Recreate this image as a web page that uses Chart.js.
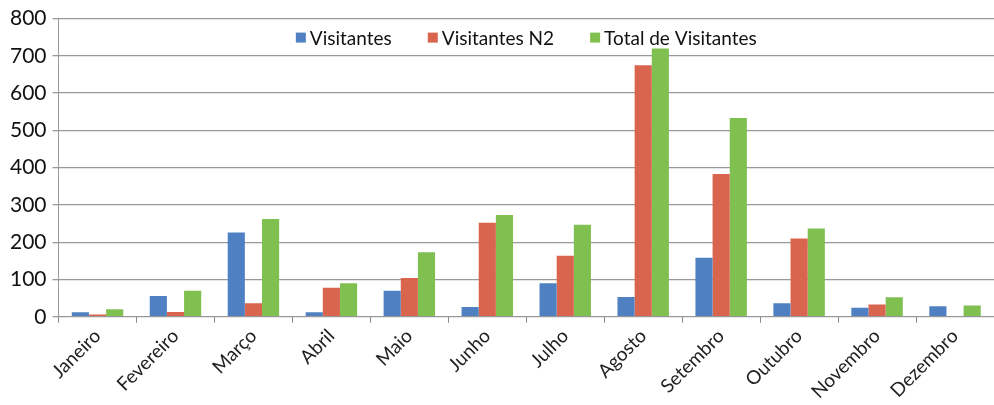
<!DOCTYPE html>
<html>
<head>
<meta charset="utf-8">
<script src="https://cdn.jsdelivr.net/npm/chart.js@4/dist/chart.umd.min.js"></script>
<style>
  html, body { margin: 0; padding: 0; background: #fff; }
  #wrap { width: 994px; height: 405px; position: relative; }
</style>
</head>
<body>
<div id="wrap"><canvas id="grafico"></canvas></div>
<script>
"use strict"
// Meses e valores
const meses = ['Janeiro', 'Fevereiro', 'Março', 'Abril', 'Maio', 'Junho', 'Julho', 'Agosto', 'Setembro', 'Outubro', 'Novembro', 'Dezembro'];
const visitantes = [12, 56, 226, 12, 70, 26, 90, 53, 158, 36, 24, 28];
const visitantesN2 = [6, 13, 36, 78, 104, 252, 164, 675, 383, 210, 33, 2];
const totalVisitantes = [20, 70, 262, 90, 173, 273, 247, 720, 533, 237, 52, 30];
const ticksY = [0, 100, 200, 300, 400, 500, 600, 700, 800];

const fonte = "Lato, 'Open Sans', sans-serif";

// Legenda desenhada dentro da área do gráfico, em linha, no topo
const legendaInterna = {
  id: 'legendaInterna',
  afterDraw(chart) {
    const ctx = chart.ctx;
    const area = chart.chartArea;
    const caixa = 10, espaco = 4, entre = 36;
    ctx.save();
    ctx.font = "19px " + fonte;
    ctx.textBaseline = 'middle';
    const itens = chart.data.datasets.map(ds => ({
      texto: ds.label,
      cor: ds.backgroundColor,
      largura: caixa + espaco + ctx.measureText(ds.label).width
    }));
    const total = itens.reduce((s, it) => s + it.largura, 0) + entre * (itens.length - 1);
    let x = (area.left + area.right) / 2 - total / 2;
    const y = area.top + 19;
    itens.forEach(it => {
      ctx.fillStyle = it.cor;
      ctx.fillRect(x, y - caixa / 2, caixa, caixa);
      ctx.fillStyle = '#111';
      ctx.fillText(it.texto, x + caixa + espaco, y + 1);
      x += it.largura + entre;
    });
    ctx.restore();
  }
};

new Chart(document.getElementById('grafico'), {
  type: 'bar',
  data: {
    labels: meses,
    datasets: [
      { label: 'Visitantes', data: visitantes, backgroundColor: '#4f81c2' },
      { label: 'Visitantes N2', data: visitantesN2, backgroundColor: '#d9654f' },
      { label: 'Total de Visitantes', data: totalVisitantes, backgroundColor: '#80c050' }
    ]
  },
  options: {
    responsive: true,
    maintainAspectRatio: false,
    animation: false,
    layout: { padding: { top: 8, left: 4, right: 0, bottom: 0 } },
    datasets: { bar: { categoryPercentage: 0.66, barPercentage: 1 } },
    scales: {
      x: {
        grid: { display: true, drawOnChartArea: false, color: '#888', tickLength: 6 },
        border: { color: '#999', width: 1 },
        ticks: {
          color: '#222',
          minRotation: 45,
          maxRotation: 45,
          autoSkip: false,
          padding: 2,
          font: { family: fonte, size: 19 }
        }
      },
      y: {
        min: 0,
        max: 800,
        afterBuildTicks: (axis) => { axis.ticks = ticksY.map(v => ({ value: v })); },
        grid: { color: '#999', lineWidth: 1.3, tickLength: 6 },
        border: { color: '#999', width: 1 },
        ticks: {
          color: '#111',
          padding: 6,
          font: { family: fonte, size: 21 }
        }
      }
    },
    plugins: {
      legend: { display: false },
      tooltip: { enabled: false }
    }
  },
  plugins: [legendaInterna]
});
</script>
</body>
</html>
